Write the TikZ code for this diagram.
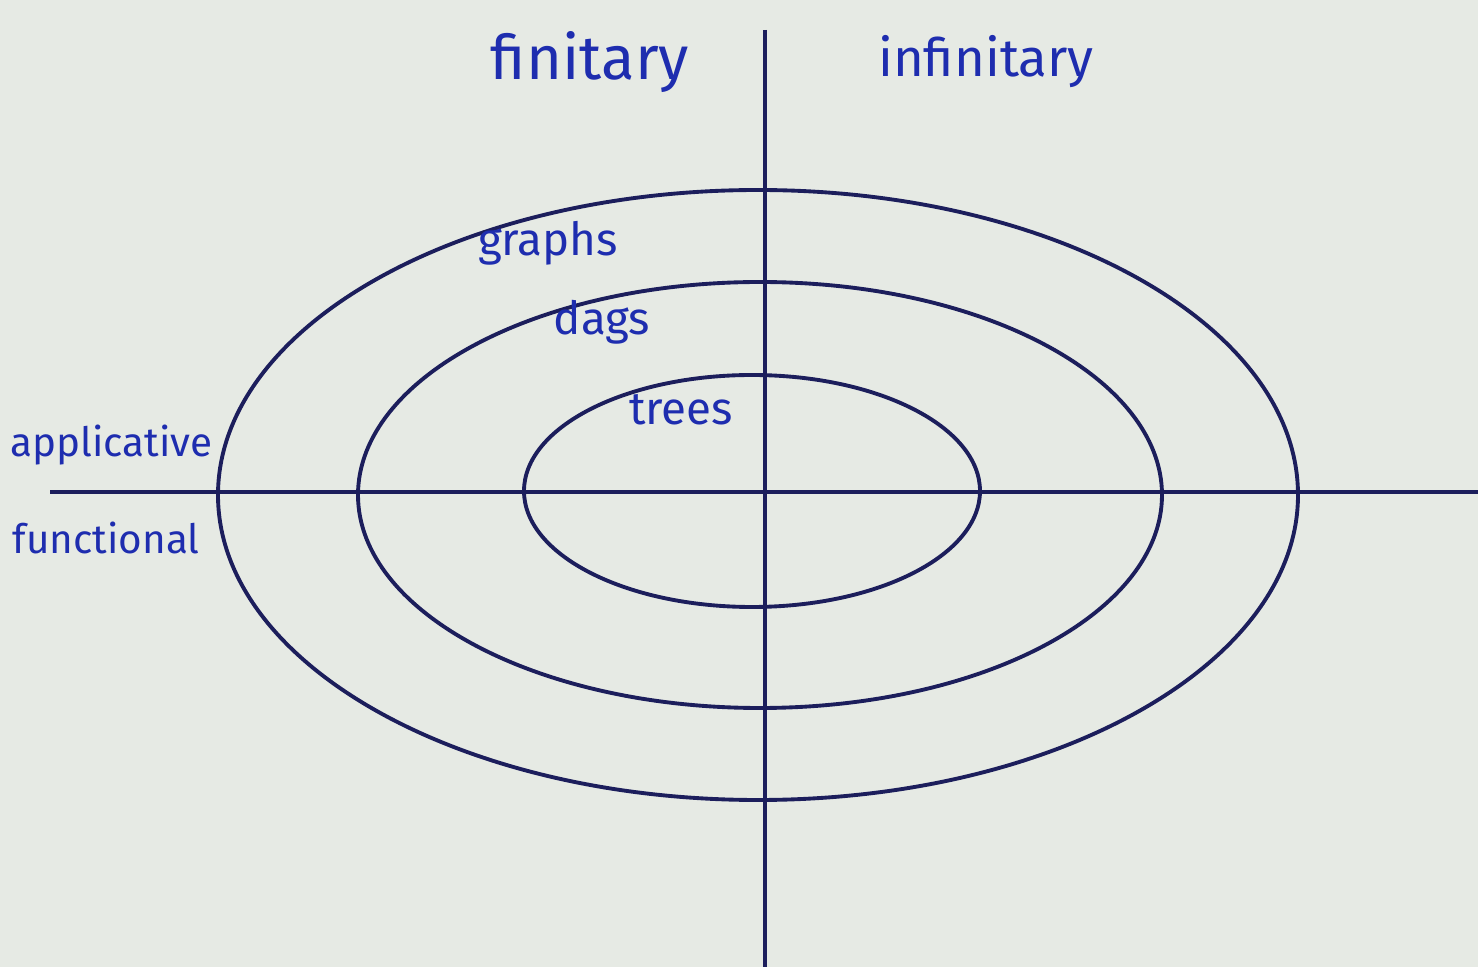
\documentclass[tikz,border=0pt]{standalone}
\usepackage{fontspec}
\newfontfamily\handfont{Fira Sans}
\usetikzlibrary{positioning}
\definecolor{cPaper}{RGB}{230,234,228}
\definecolor{cLine}{RGB}{28,30,92}
\definecolor{cInk}{RGB}{30,45,175}
\begin{document}
\begin{tikzpicture}[x=0.01cm, y=0.01cm,
            ink/.style={draw=cLine, line width=1.1pt},
            lbl/.style={text=cInk, font=\handfont\fontsize{13}{15}\selectfont, inner sep=0pt},
            sidelbl/.style={lbl, anchor=west, font=\handfont\fontsize{11.5}{14}\selectfont},
            biglbl/.style={lbl, font=\handfont\fontsize{17.5}{20}\selectfont}]
            \fill[cPaper] (0,0) rectangle (1478,-967);
            \useasboundingbox (0,0) rectangle (1478,-967);
            % axes
            \coordinate (top) at (765,-30);
            \coordinate (bot) at (765,-967);
            \coordinate (lft) at (50,-492);
            \coordinate (rgt) at (1478,-492);
            \draw[ink, line width=0.9pt] (top) -- (bot);
            \draw[ink, line width=0.9pt] (lft) -- (rgt);
            % nested ellipses
            \draw[ink] (758,-495) ellipse [x radius=540, y radius=305];
            \draw[ink] (760,-495) ellipse [x radius=402, y radius=213];
            \draw[ink] (752,-491) ellipse [x radius=228, y radius=116];
            % labels
            \node[biglbl] (fin) at (590,-62) {finitary};
            \node[biglbl, font=\handfont\fontsize{15}{18}\selectfont] (infin) at (986,-62) {infinitary};
            \node[lbl] (graphs) at (548,-243) {graphs};
            \node[lbl] (dags) at (602,-322) {dags};
            \node[lbl] (trees) at (681,-410) {trees};
            \node[sidelbl] (appl) at (10,-445) {applicative};
            \node[sidelbl] (func) at (12,-538) {functional};
        \end{tikzpicture}
\end{document}
